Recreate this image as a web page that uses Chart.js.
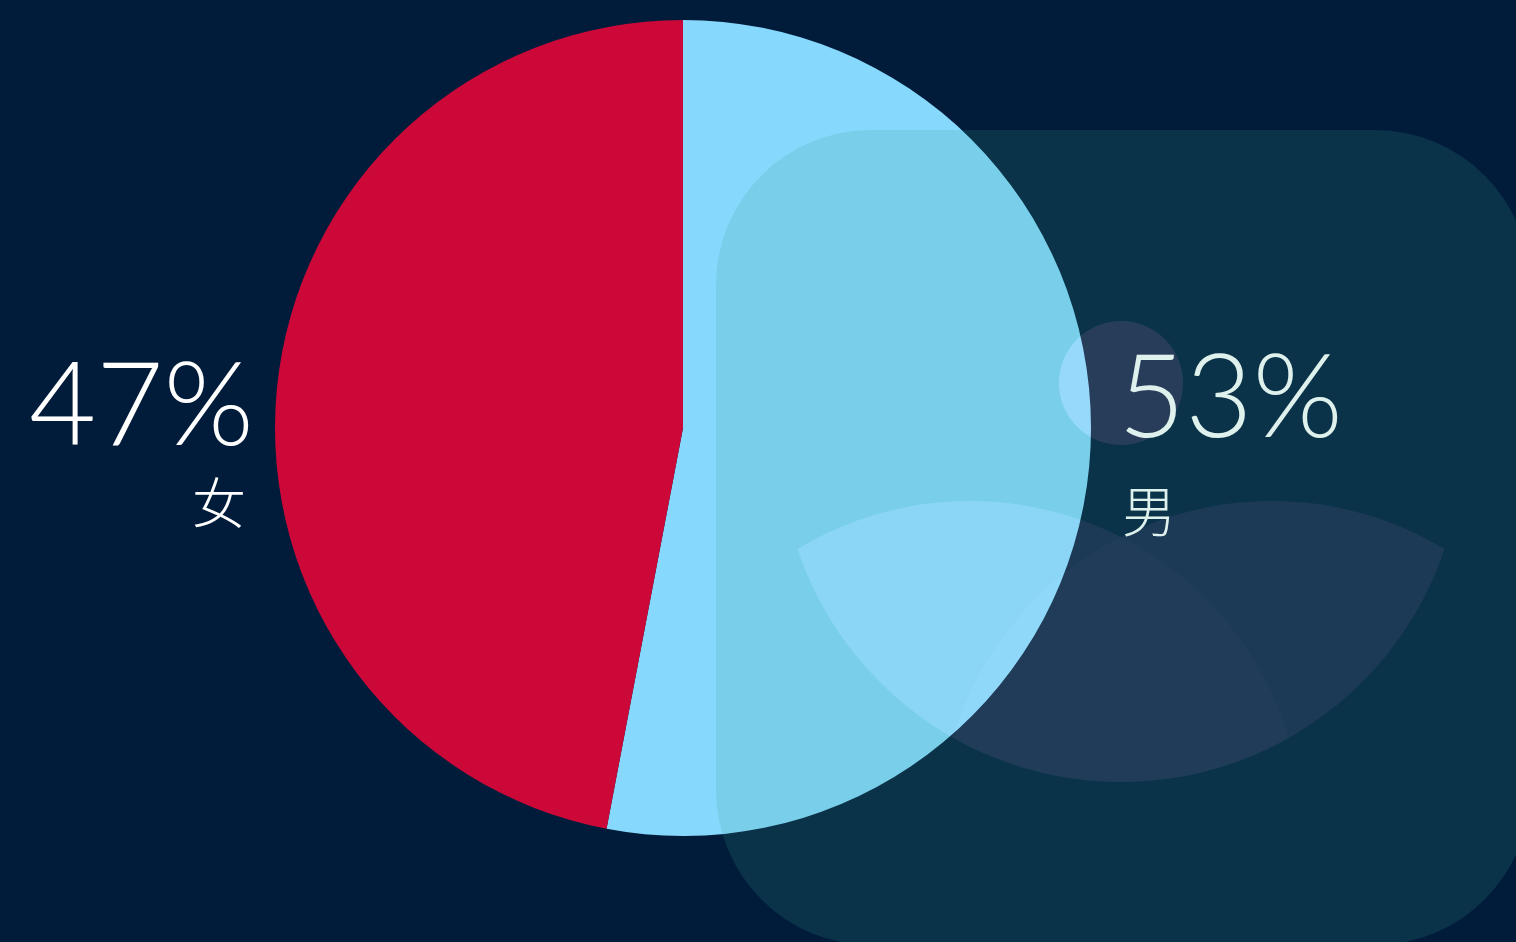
<!DOCTYPE html>
<html>
<head>
<meta charset="utf-8">
<script src="https://cdn.jsdelivr.net/npm/chart.js@4"></script>
<style>
    html, body { margin: 0; padding: 0; background: #001c3a; overflow: hidden; }
    #wrap { position: relative; width: 1516px; height: 942px; }
    .pct, .lbl { position: absolute; line-height: 1; white-space: nowrap; }
    .pct { font-family: "Lato", "Roboto", sans-serif; font-weight: 300; font-size: 116px; }
    .lbl { font-family: "Noto Sans CJK SC", sans-serif; font-weight: 300; font-size: 54px; }
</style>
</head>
<body>
<div id="wrap">
    <canvas id="genderChart"></canvas>
    <div class="pct" id="pctF" style="right:1262px; top:343px; color:#ffffff;"></div>
    <div class="lbl" id="lblF" style="right:1270px; top:474px; color:#ffffff;"></div>
    <div class="pct" id="pctM" style="left:1118px; top:335px; color:#dff1ec;"></div>
    <div class="lbl" id="lblM" style="left:1122px; top:482px; color:#dff1ec;"></div>
</div>
<script>
// ================================================================
// DATA
// ================================================================

const labels = ['男', '女'];
const values = [53, 47];
const colors = ['#86d8fc', '#cc0839'];

// ================================================================
// BACKGROUND + DECORATIVE OVERLAY (user icon card over the pie)
// ================================================================

const backgroundPlugin = {
    id: 'bg',
    beforeDraw(chart) {
        const ctx = chart.ctx;
        ctx.save();
        ctx.fillStyle = '#001c3a';
        ctx.fillRect(0, 0, chart.width, chart.height);
        ctx.restore();
    }
};

function lobe(ctx, cx) {
    ctx.beginPath();
    ctx.arc(cx, 834, 333, 0, Math.PI * 2);
}

const overlayPlugin = {
    id: 'userCard',
    afterDraw(chart) {
        const ctx = chart.ctx;
        ctx.save();

        // rounded card
        ctx.fillStyle = 'rgba(59,169,146,0.17)';
        ctx.beginPath();
        ctx.roundRect(716, 130, 814, 815, 155);
        ctx.fill();

        ctx.globalCompositeOperation = 'lighter';

        // head
        ctx.fillStyle = 'rgb(30,10,17)';
        ctx.beginPath();
        ctx.arc(1121, 383, 62, 0, Math.PI * 2);
        ctx.fill();

        // shoulders: two lobes clipped by one big circle
        ctx.beginPath();
        ctx.arc(1121, 441, 341, 0, Math.PI * 2);
        ctx.clip();

        // union of the lobes
        ctx.fillStyle = 'rgb(18,6,12)';
        ctx.beginPath();
        ctx.arc(970, 834, 333, 0, Math.PI * 2);
        ctx.moveTo(1272 + 333, 834);
        ctx.arc(1272, 834, 333, 0, Math.PI * 2);
        ctx.fill('nonzero');

        // slightly brighter where they overlap
        lobe(ctx, 970);
        ctx.clip();
        ctx.fillStyle = 'rgb(5,3,4)';
        lobe(ctx, 1272);
        ctx.fill();

        ctx.restore();
    }
};

// ================================================================
// CHART
// ================================================================

const canvas = document.getElementById('genderChart');
canvas.width = 1516;
canvas.height = 942;

new Chart(canvas.getContext('2d'), {
    type: 'pie',
    data: {
        labels: labels,
        datasets: [{
            data: values,
            backgroundColor: colors,
            borderWidth: 0,
            hoverOffset: 0
        }]
    },
    options: {
        responsive: false,
        animation: false,
        layout: {
            padding: { left: 275, right: 425, top: 20, bottom: 106 }
        },
        plugins: {
            legend: { display: false },
            tooltip: { enabled: false }
        }
    },
    plugins: [backgroundPlugin, overlayPlugin]
});

// labels
document.getElementById('pctM').textContent = values[0] + '%';
document.getElementById('lblM').textContent = labels[0];
document.getElementById('pctF').textContent = values[1] + '%';
document.getElementById('lblF').textContent = labels[1];
</script>
</body>
</html>
